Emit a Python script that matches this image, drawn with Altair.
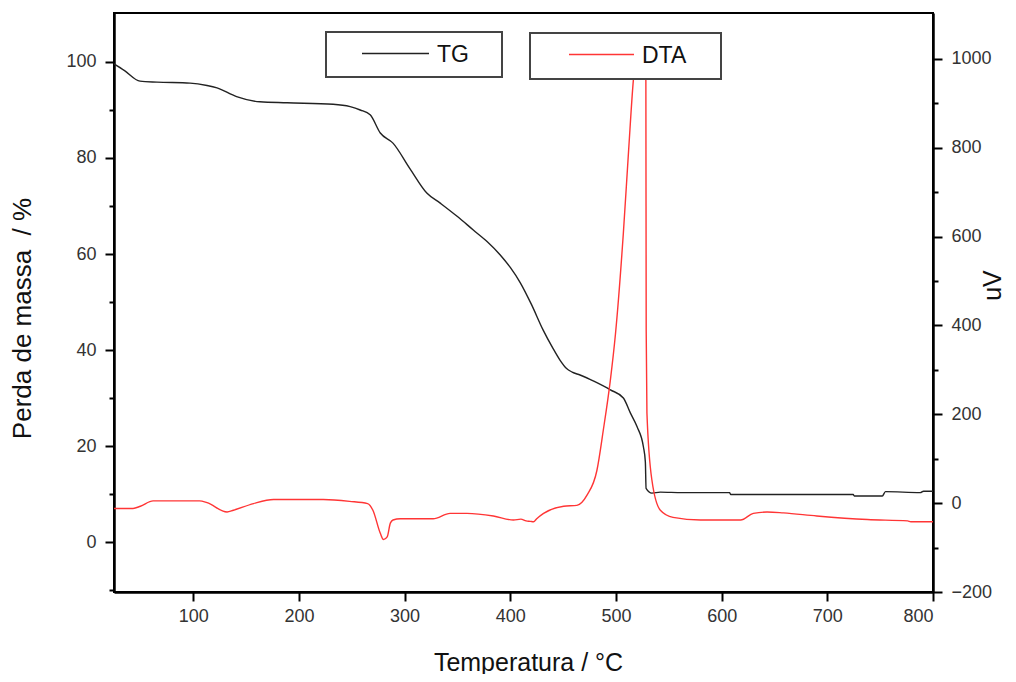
import altair as alt
import pandas as pd

# ---- data ----
tg_temp = [25, 35, 49.6, 65.7, 97, 113, 122.5, 141, 163, 188.8, 232.4, 248.5, 258, 267.4, 277, 289,
           305, 321, 333.7, 350, 365, 378, 390.5, 400, 409.5, 420, 431, 440, 447, 453, 458.6, 466,
           480, 494.7, 507, 513.6, 520, 526, 527.8, 528.5, 534, 542, 562.5, 607.5, 608.5, 724.5,
           725.5, 752, 755, 788, 791, 800]
tg_mass = [99.6, 98.2, 96.0, 95.8, 95.6, 95.1, 94.6, 92.8, 91.7, 91.5, 91.2, 90.7, 90.0, 89.0, 85.2, 83.1,
           77.8, 72.7, 70.6, 67.8, 65.0, 62.6, 59.8, 57.2, 54.0, 49.5, 44.2, 40.5, 37.9, 36.2, 35.4, 34.8,
           33.4, 31.7, 30.0, 26.9, 24.0, 19.8, 16.7, 11.2, 10.2, 10.4, 10.3, 10.3, 9.9, 9.9,
           9.6, 9.6, 10.5, 10.3, 10.6, 10.6]

dta_temp = [25, 43, 50, 62, 106, 113, 132, 138, 157, 176, 223, 248, 265, 270, 277, 280, 283.5, 286.5,
            289, 296, 327, 343, 359, 384, 403, 410, 415, 419, 422, 425, 431.5, 450.5, 463, 472.6, 482,
            488, 494.7, 499.5, 507, 512, 516.5, 519, 522, 525, 527.5, 528.3, 528.6, 529.3, 534, 542,
            554, 580, 618, 630, 643, 658.5, 690, 738, 776, 779, 800]
dta_uv = [-12, -12, -7, 5, 5, 1, -20, -16, -1, 8, 8, 4, -1, -16, -68, -82, -76, -45,
          -38, -35, -35, -23, -23, -29, -38, -36, -40, -41, -42, -35, -23, -7, -5, 18, 74,
          164, 277, 380, 608, 795, 953, 1010, 1035, 1040, 1020, 950, 390, 203, 52, -16,
          -32, -38, -38, -23, -20, -22, -29, -37, -40, -42, -42]

series_names = ["TG", "DTA"]
x_ticks = [100, 200, 300, 400, 500, 600, 700, 800]
left_ticks = [-10, 0, 10, 20, 30, 40, 50, 60, 70, 80, 90, 100]
right_ticks = [-200, -100, 0, 100, 200, 300, 400, 500, 600, 700, 800, 900, 1000]

FONT = "Liberation Sans"
TG_COLOR = "#222222"
DTA_COLOR = "#ff3535"

tg_df = pd.DataFrame({"T": tg_temp, "m": tg_mass, "i": range(len(tg_temp))})
dta_df = pd.DataFrame({"T": dta_temp, "v": dta_uv, "i": range(len(dta_temp))})
one = pd.DataFrame({"k": [0]})

x_enc = alt.X(
    "T:Q",
    scale=alt.Scale(domain=[25, 800], nice=False, zero=False),
    axis=alt.Axis(values=x_ticks, title="Temperatura / °C", tickSize=9, labelPadding=6,
                  titleX=414, titleY=78, titleBaseline="alphabetic", titleAlign="center"),
)

tg = alt.Chart(tg_df).mark_line(color=TG_COLOR, strokeWidth=1.4, clip=True,
                                interpolate="monotone").encode(
    x=x_enc,
    y=alt.Y(
        "m:Q",
        scale=alt.Scale(domain=[-10.4, 110.2], nice=False, zero=False),
        axis=alt.Axis(
            values=left_ticks,
            labelExpr="datum.value % 20 === 0 ? datum.label : ''",
            tickSize={"condition": {"test": "datum.value % 20 === 0", "value": 9}, "value": 5},
            labelPadding=9,
            title="Perda de massa\u00a0\u00a0/ %",
            titleFontSize=26,
            titleAngle=270, titleX=-92, titleY=305, titleAlign="center", titleBaseline="middle",
        ),
    ),
    order="i:Q",
)

dta = alt.Chart(dta_df).mark_line(color=DTA_COLOR, strokeWidth=1.4, clip=True,
                                  interpolate="monotone").encode(
    x=alt.X("T:Q"),
    y=alt.Y(
        "v:Q",
        scale=alt.Scale(domain=[-200, 1103], nice=False, zero=False),
        axis=alt.Axis(
            orient="right",
            values=right_ticks,
            format="d",
            labelExpr="datum.value % 200 === 0 ? datum.label : ''",
            tickSize={"condition": {"test": "datum.value % 200 === 0", "value": 9}, "value": 5},
            labelPadding=9,
            title="uV",
            titleAngle=270, titleX=59, titleY=272, titleAlign="center", titleBaseline="middle",
        ),
    ),
    order="i:Q",
)

def legend_box(x0, x1, y0, y1, lx0, lx1, ly, color, label):
    box = alt.Chart(one).mark_rect(fill="white", stroke="#444444", strokeWidth=2).encode(
        x=alt.value(x0), x2=alt.value(x1), y=alt.value(y0), y2=alt.value(y1))
    line = alt.Chart(one).mark_rule(color=color, strokeWidth=1.6).encode(
        x=alt.value(lx0), x2=alt.value(lx1), y=alt.value(ly))
    txt = alt.Chart(one).mark_text(align="left", baseline="middle", font=FONT, fontSize=23,
                                   color="#111111").encode(
        x=alt.value(lx1 + 8), y=alt.value(ly + 1), text=alt.value(label))
    return [box, line, txt]

leg = legend_box(212, 388, 19, 64, 248, 315, 40.5, TG_COLOR, series_names[0]) + \
      legend_box(416, 607, 20, 66, 455, 520, 41.5, DTA_COLOR, series_names[1])

chart = alt.layer(tg, dta, *leg).resolve_scale(y="independent").properties(
    width=819, height=579,
    autosize=alt.AutoSizeParams(type="none"),
    padding={"left": 106, "top": 5, "right": 75, "bottom": 82},
).configure_view(stroke="black", strokeWidth=2).configure_axis(
    grid=False,
    domainColor="black", domainWidth=2.5,
    tickColor="black", tickWidth=2,
    labelFont=FONT, labelFontSize=18, labelColor="#333333",
    titleFont=FONT, titleFontSize=25, titleFontWeight="normal", titleColor="#111111",
)

chart.save("out.html", embed_options={"renderer": "svg", "actions": False})
